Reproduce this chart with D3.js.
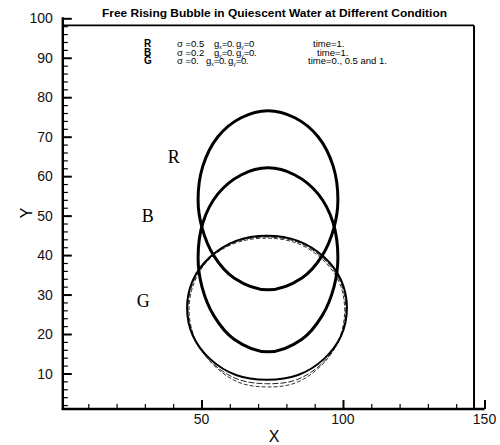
<!DOCTYPE html>
<html><head><meta charset="utf-8">
<script src="https://cdn.jsdelivr.net/npm/d3@7"></script>
<style>body{margin:0;background:#fff}svg{display:block}</style>
</head><body>
<script>
// ---- data ----
const title = "Free Rising Bubble in Quiescent Water at Different Condition";
const xTicks = [50, 100, 150];
const yTicks = [10, 20, 30, 40, 50, 60, 70, 80, 90, 100];
const legendRows = ["R", "B", "G"];
const legendSigma = ["0.5", "0.2", "0."];
const legendGx = ["0.", "0.", "0."];
const legendGy = ["0", "0.", "0."];
const legendTime = ["1.", "1.", "0., 0.5 and 1."];
const shapeR = [[73.5,76.6],[83.0,74.8],[91.2,70.0],[96.5,62.6],[98.2,54.0],[96.8,46.9],[92.6,39.8],[85.5,34.2],
  [73.5,31.2],[61.5,34.2],[54.4,39.8],[50.2,46.9],[48.8,54.0],[50.5,62.6],[55.8,70.0],[64.0,74.8]];
const shapeB = [[73.5,62.1],[83.0,60.3],[91.2,55.5],[96.5,48.2],[98.2,39.3],[96.8,31.9],[92.6,24.6],[85.5,18.7],
  [73.5,15.5],[61.5,18.7],[54.4,24.6],[50.2,31.9],[48.8,39.3],[50.5,48.2],[55.8,55.5],[64.0,60.3]];
const shapeG0 = [[101.4,26.6],[99.3,33.7],[93.3,39.5],[84.1,43.6],[73.1,44.9],[62.2,43.6],[53.0,39.5],[47.0,33.7],
  [44.9,26.6],[47.0,19.5],[53.0,13.7],[62.2,9.6],[73.1,8.4],[84.1,9.6],[93.3,13.7],[99.3,19.5]];
const shapeG05 = [[101.0,26.4],[99.0,33.4],[93.0,39.2],[84.0,43.3],[73.0,44.6],[62.0,43.3],[53.0,39.2],[47.2,33.4],
  [45.2,26.4],[47.4,19.0],[53.6,12.8],[62.6,8.6],[73.0,7.4],[83.6,8.4],[93.0,12.8],[99.0,19.0]];
const shapeG1 = [[100.6,26.2],[98.6,33.2],[92.6,39.0],[83.8,43.0],[72.8,44.3],[61.8,43.0],[52.8,39.0],[47.4,33.0],
  [45.6,26.0],[47.8,18.6],[54.2,12.2],[63.0,7.8],[72.6,6.6],[83.2,7.6],[92.6,12.2],[98.6,18.6]];

const W = 500, H = 445;
const svg = d3.select("body").append("svg").attr("width", W).attr("height", H);
const x = d3.scaleLinear().domain([1, 150]).range([62.8, 484.5]);
const y = d3.scaleLinear().domain([1, 100]).range([409, 18.3]);
const font = "'Liberation Sans', Arial, sans-serif";

// frame (top / right lines of plot box)
const frameTop = 98.2, frameRight = 146.3;
svg.append("line").attr("x1", x(1)).attr("x2", x(frameRight)).attr("y1", y(frameTop)).attr("y2", y(frameTop))
  .attr("stroke", "#000").attr("stroke-width", 1.6);
svg.append("line").attr("x1", x(frameRight)).attr("x2", x(frameRight)).attr("y1", y(frameTop)).attr("y2", y(1))
  .attr("stroke", "#000").attr("stroke-width", 2);

// axes
const yAxis = svg.append("g").attr("transform", `translate(${x(1)},0)`);
yAxis.append("g").call(d3.axisRight(y).tickValues(d3.range(2, 101, 2).filter(v => v % 10 !== 0)).tickSize(5).tickFormat(""))
  .call(g => g.select(".domain").remove()).selectAll("line").attr("stroke-width", 1.2);
yAxis.append("g").call(d3.axisRight(y).tickValues(yTicks).tickSize(9).tickFormat(""))
  .call(g => g.select(".domain").remove()).selectAll("line").attr("stroke-width", 2);
yAxis.selectAll(".lab").data(yTicks).join("text").attr("class", "lab")
  .attr("x", -10).attr("y", d => y(d)).attr("dy", "0.36em").attr("text-anchor", "end")
  .attr("font-family", font).attr("font-size", 14).attr("fill", "#111").text(d => d);
yAxis.append("line").attr("x1", 0).attr("x2", 0).attr("y1", y(100) - 1).attr("y2", y(1) + 1)
  .attr("stroke", "#000").attr("stroke-width", 2.4);

const xAxis = svg.append("g").attr("transform", `translate(0,${y(1)})`);
xAxis.append("g").call(d3.axisTop(x).tickValues(d3.range(10, 150, 10).filter(v => v % 50 !== 0)).tickSize(5).tickFormat(""))
  .call(g => g.select(".domain").remove()).selectAll("line").attr("stroke-width", 1.2);
xAxis.append("g").call(d3.axisTop(x).tickValues(xTicks).tickSize(9).tickFormat(""))
  .call(g => g.select(".domain").remove()).selectAll("line").attr("stroke-width", 2);
xAxis.selectAll(".lab").data(xTicks).join("text").attr("class", "lab")
  .attr("x", d => x(d)).attr("y", 15).attr("text-anchor", "middle")
  .attr("font-family", font).attr("font-size", 14).attr("fill", "#111").text(d => d);
xAxis.append("line").attr("x1", x(1) - 1).attr("x2", x(150)).attr("y1", 0).attr("y2", 0)
  .attr("stroke", "#000").attr("stroke-width", 2.4);

// axis titles
svg.append("text").attr("x", 274).attr("y", 442).attr("text-anchor", "middle")
  .attr("font-family", font).attr("font-size", 16).text("X");
svg.append("text").attr("transform", "translate(32,213) rotate(-90)").attr("text-anchor", "middle")
  .attr("font-family", font).attr("font-size", 16).text("Y");

// title
svg.append("text").attr("x", 274.5).attr("y", 17).attr("text-anchor", "middle")
  .attr("font-family", font).attr("font-weight", "bold").attr("font-size", 11)
  .attr("textLength", 345).attr("lengthAdjust", "spacingAndGlyphs").text(title);

// legend text: one text element per row
const gxPos = [214, 214, 206], gyPos = [236, 236, 228], timePos = [313, 317, 308];
legendRows.forEach((r, i) => {
  const by = 47 + i * 8.7;
  const t = svg.append("text").attr("y", by).attr("font-family", font).attr("font-size", 9.5);
  t.append("tspan").attr("x", 144).attr("font-weight", "bold").attr("font-size", 10).text(r);
  t.append("tspan").attr("x", 177).text("σ =" + legendSigma[i]);
  t.append("tspan").attr("x", gxPos[i]).attr("y", by).text("g");
  t.append("tspan").attr("font-size", 5).attr("y", by + 2).text("x");
  t.append("tspan").attr("y", by).attr("letter-spacing", -0.4).text("=" + legendGx[i]);
  t.append("tspan").attr("x", gyPos[i]).attr("y", by).text("g");
  t.append("tspan").attr("font-size", 5).attr("y", by + 2).text("y");
  t.append("tspan").attr("y", by).attr("letter-spacing", -0.4).text("=" + legendGy[i]);
  t.append("tspan").attr("x", timePos[i]).attr("y", by).text("time=" + legendTime[i]);
});

// curve labels
const serif = "'Liberation Serif', 'Times New Roman', serif";
const labelPos = [[40.2, 63.3], [31.0, 48.4], [29.4, 26.8]];
legendRows.forEach((r, i) => {
  svg.append("text").attr("x", x(labelPos[i][0])).attr("y", y(labelPos[i][1]))
    .attr("font-family", serif).attr("font-size", 18).attr("text-anchor", "middle").text(r);
});

// bubble outlines
const line = d3.line().x(d => x(d[0])).y(d => y(d[1])).curve(d3.curveCatmullRomClosed.alpha(0.5));
const plot = svg.append("g").attr("fill", "none").attr("stroke", "#000");
plot.append("path").attr("d", line(shapeG1)).attr("stroke-width", 1).attr("stroke-dasharray", "4,2").attr("stroke", "#333");
plot.append("path").attr("d", line(shapeG05)).attr("stroke-width", 1).attr("stroke-dasharray", "6,2").attr("stroke", "#222");
plot.append("path").attr("d", line(shapeG0)).attr("stroke-width", 2);
plot.append("path").attr("d", line(shapeB)).attr("stroke-width", 3);
plot.append("path").attr("d", line(shapeR)).attr("stroke-width", 3);
</script>
</body></html>
